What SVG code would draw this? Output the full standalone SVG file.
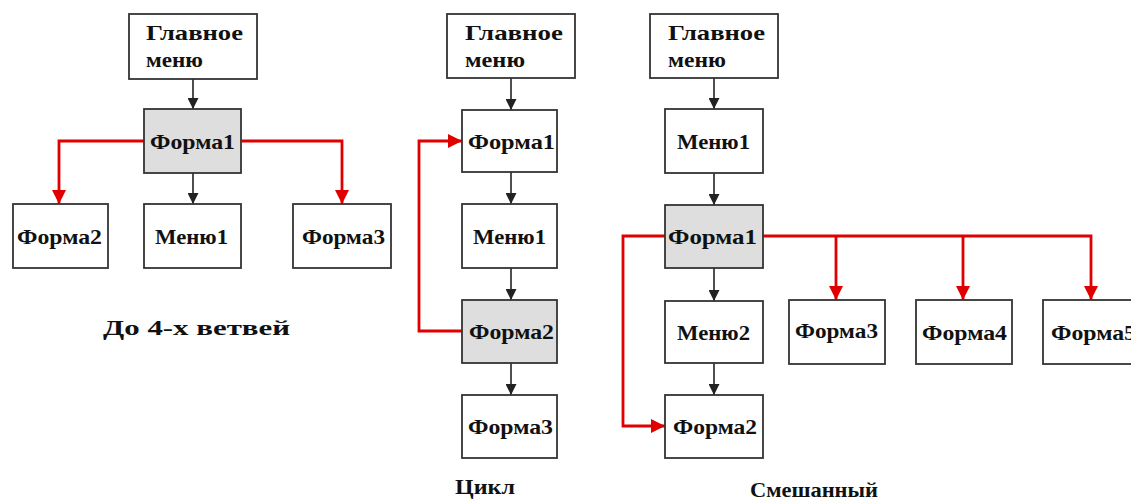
<svg xmlns="http://www.w3.org/2000/svg" width="1131" height="500" viewBox="0 0 1131 500">
<style>
.box{fill:#ffffff;stroke:#333333;stroke-width:1.8}
.hl{fill:#dedede;stroke:#333333;stroke-width:1.8}
.t{font-family:"Liberation Serif","DejaVu Serif",serif;font-weight:bold;font-size:21px;fill:#111111}
.blk{fill:none;stroke:#222222;stroke-width:1.6}
.red{fill:none;stroke:#e00000;stroke-width:2.8}
</style>
<defs>
<marker id="ab" markerUnits="userSpaceOnUse" markerWidth="11" markerHeight="11" refX="11" refY="5.5" orient="auto">
<path d="M0,0 L11,5.5 L0,11 z" fill="#222222"/>
</marker>
<marker id="ar" markerUnits="userSpaceOnUse" markerWidth="14" markerHeight="14" refX="14" refY="7" orient="auto">
<path d="M0,0 L14,7 L0,14 z" fill="#e00000"/>
</marker>
</defs>
<rect width="1131" height="500" fill="#ffffff"/>

<g id="connectors">
<path class="blk" d="M193,79 V109" marker-end="url(#ab)"/>
<path class="blk" d="M193,173 V204" marker-end="url(#ab)"/>
<path class="red" d="M144,141 H59 V204" marker-end="url(#ar)"/>
<path class="red" d="M241,141 H342 V204" marker-end="url(#ar)"/>
<path class="blk" d="M511,78 V110" marker-end="url(#ab)"/>
<path class="blk" d="M511,172 V204" marker-end="url(#ab)"/>
<path class="blk" d="M511,268 V300" marker-end="url(#ab)"/>
<path class="blk" d="M511,363 V395" marker-end="url(#ab)"/>
<path class="red" d="M462,331 H419 V141 H462" marker-end="url(#ar)"/>
<path class="blk" d="M714,78 V109" marker-end="url(#ab)"/>
<path class="blk" d="M714,173 V205" marker-end="url(#ab)"/>
<path class="blk" d="M714,268 V301" marker-end="url(#ab)"/>
<path class="blk" d="M714,363 V395" marker-end="url(#ab)"/>
<path class="red" d="M665,236 H623 V426 H665" marker-end="url(#ar)"/>
<path class="red" d="M763,236 H1091 V300" marker-end="url(#ar)"/>
<path class="red" d="M836,236 V300" marker-end="url(#ar)"/>
<path class="red" d="M963,236 V300" marker-end="url(#ar)"/>
</g>

<g id="l-main">
<rect class="box" x="129" y="14" width="128" height="65"/>
<text class="t" x="146" y="40" textLength="97" lengthAdjust="spacingAndGlyphs">Главное</text>
<text class="t" x="146" y="67" textLength="57" lengthAdjust="spacingAndGlyphs">меню</text>
</g>
<g id="l-forma1">
<rect class="hl" x="144" y="109" width="97" height="64"/>
<text class="t" x="150" y="149" textLength="85" lengthAdjust="spacingAndGlyphs">Форма1</text>
</g>
<g id="l-forma2">
<rect class="box" x="13" y="204" width="95" height="64"/>
<text class="t" x="17" y="244" textLength="85" lengthAdjust="spacingAndGlyphs">Форма2</text>
</g>
<g id="l-menu1">
<rect class="box" x="144" y="204" width="97" height="64"/>
<text class="t" x="155" y="244" textLength="73" lengthAdjust="spacingAndGlyphs">Меню1</text>
</g>
<g id="l-forma3">
<rect class="box" x="293" y="204" width="98" height="64"/>
<text class="t" x="302" y="244" textLength="83" lengthAdjust="spacingAndGlyphs">Форма3</text>
</g>
<text class="t" x="103" y="335" textLength="187" lengthAdjust="spacingAndGlyphs" xml:space="preserve">До 4-х ветвей</text>

<g id="m-main">
<rect class="box" x="447" y="14" width="128" height="64"/>
<text class="t" x="465" y="40" textLength="98" lengthAdjust="spacingAndGlyphs">Главное</text>
<text class="t" x="465" y="67" textLength="60" lengthAdjust="spacingAndGlyphs">меню</text>
</g>
<g id="m-forma1">
<rect class="box" x="462" y="110" width="95" height="62"/>
<text class="t" x="468" y="149" textLength="87" lengthAdjust="spacingAndGlyphs">Форма1</text>
</g>
<g id="m-menu1">
<rect class="box" x="462" y="204" width="95" height="64"/>
<text class="t" x="473" y="244" textLength="73" lengthAdjust="spacingAndGlyphs">Меню1</text>
</g>
<g id="m-forma2">
<rect class="hl" x="462" y="300" width="95" height="63"/>
<text class="t" x="469" y="339" textLength="85" lengthAdjust="spacingAndGlyphs">Форма2</text>
</g>
<g id="m-forma3">
<rect class="box" x="462" y="395" width="95" height="63"/>
<text class="t" x="468" y="434" textLength="85" lengthAdjust="spacingAndGlyphs">Форма3</text>
</g>
<text class="t" x="455" y="494" textLength="60" lengthAdjust="spacingAndGlyphs">Цикл</text>

<g id="r-main">
<rect class="box" x="650" y="14" width="128" height="64"/>
<text class="t" x="668" y="40" textLength="97" lengthAdjust="spacingAndGlyphs">Главное</text>
<text class="t" x="668" y="67" textLength="58" lengthAdjust="spacingAndGlyphs">меню</text>
</g>
<g id="r-menu1">
<rect class="box" x="665" y="109" width="98" height="64"/>
<text class="t" x="677" y="149" textLength="73" lengthAdjust="spacingAndGlyphs">Меню1</text>
</g>
<g id="r-forma1">
<rect class="hl" x="665" y="205" width="98" height="63"/>
<text class="t" x="668" y="244" textLength="89" lengthAdjust="spacingAndGlyphs">Форма1</text>
</g>
<g id="r-menu2">
<rect class="box" x="665" y="301" width="98" height="62"/>
<text class="t" x="677" y="340" textLength="73" lengthAdjust="spacingAndGlyphs">Меню2</text>
</g>
<g id="r-forma2">
<rect class="box" x="665" y="395" width="98" height="63"/>
<text class="t" x="673" y="434" textLength="84" lengthAdjust="spacingAndGlyphs">Форма2</text>
</g>
<g id="r-forma3">
<rect class="box" x="789" y="300" width="96" height="64"/>
<text class="t" x="795" y="338" textLength="83" lengthAdjust="spacingAndGlyphs">Форма3</text>
</g>
<g id="r-forma4">
<rect class="box" x="916" y="300" width="96" height="64"/>
<text class="t" x="922" y="340" textLength="85" lengthAdjust="spacingAndGlyphs">Форма4</text>
</g>
<g id="r-forma5">
<rect class="box" x="1043" y="300" width="96" height="64"/>
<text class="t" x="1051" y="340" textLength="85" lengthAdjust="spacingAndGlyphs">Форма5</text>
</g>
<text class="t" x="750" y="497" textLength="128" lengthAdjust="spacingAndGlyphs">Смешанный</text>
</svg>
